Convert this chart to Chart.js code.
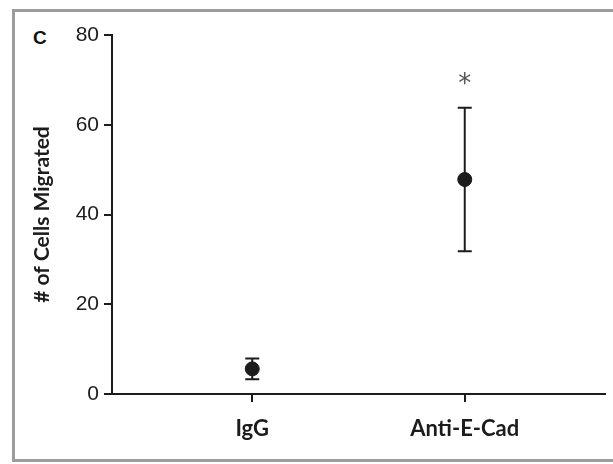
<!DOCTYPE html>
<html>
<head>
<meta charset="utf-8">
<script src="https://cdn.jsdelivr.net/npm/chart.js@4.4.1/dist/chart.umd.min.js"></script>
<style>
  html, body { margin: 0; padding: 0; background: #fff; }
  #wrap { position: relative; width: 613px; height: 464px; overflow: hidden; }
  #frame { position: absolute; left: 12px; top: 9px; width: 640px; height: 453px;
           border: 3px solid #9c9c9c; box-sizing: border-box; }
  #panel { position: absolute; left: 33px; top: 27px; color: #111;
           font: bold 19px "Liberation Sans", Arial, sans-serif; }
  canvas { position: absolute; left: 0; top: 0; }
</style>
</head>
<body>
<div id="wrap">
  <div id="frame"></div>
  <div id="panel">C</div>
  <canvas id="chart" width="613" height="464"></canvas>
</div>
<script>
// datos
const groups = ['IgG', 'Anti-E-Cad'];
const means = [5.6, 47.8];
const errors = [2.3, 16];      // +/- barra de error
const marks = ['', '*'];       // significancia
const yTicks = [0, 20, 40, 60, 80];

const ink = '#1c1c1c';

// barras de error y asterisco, dibujados con las escalas del gráfico
const errorBars = {
  id: 'errorBars',
  beforeDatasetsDraw(chart) {
    const { ctx, scales: { x, y } } = chart;
    ctx.save();
    ctx.strokeStyle = ink;
    ctx.lineWidth = 2;
    means.forEach((m, i) => {
      const px = x.getPixelForValue(i);
      const top = y.getPixelForValue(m + errors[i]);
      const bot = y.getPixelForValue(m - errors[i]);
      ctx.beginPath();
      ctx.moveTo(px, top); ctx.lineTo(px, bot);
      ctx.moveTo(px - 7, top); ctx.lineTo(px + 7, top);
      ctx.moveTo(px - 7, bot); ctx.lineTo(px + 7, bot);
      ctx.stroke();
      if (marks[i]) {
        ctx.fillStyle = '#555';
        ctx.font = '26px "DejaVu Sans", sans-serif';
        ctx.textAlign = 'center';
        ctx.textBaseline = 'middle';
        ctx.fillText(marks[i], px, top - 22);
      }
    });
    ctx.restore();
  }
};

new Chart(document.getElementById('chart'), {
  type: 'scatter',
  data: {
    datasets: [{
      data: means.map((m, i) => ({ x: i, y: m })),
      backgroundColor: ink,
      borderColor: ink,
      pointRadius: 7,
      pointHoverRadius: 7
    }]
  },
  options: {
    responsive: false,
    animation: false,
    devicePixelRatio: 1,
    layout: { padding: { left: 0, top: 35, right: 8, bottom: 0 } },
    plugins: { legend: { display: false }, tooltip: { enabled: false } },
    scales: {
      x: {
        type: 'linear',
        min: -0.66,
        max: 1.66,
        afterBuildTicks: s => { s.ticks = groups.map((g, i) => ({ value: i })); },
        afterFit: s => { s.height = 70; },
        border: { display: true, color: ink, width: 2 },
        grid: { drawOnChartArea: false, drawTicks: true, tickLength: 8, color: ink, lineWidth: 2 },
        ticks: {
          padding: 14,
          color: ink,
          font: { family: 'Lato', size: 22, weight: 'bold' },
          callback: v => groups[v] ?? ''
        }
      },
      y: {
        min: 0,
        max: 80,
        afterBuildTicks: s => { s.ticks = yTicks.map(v => ({ value: v })); },
        afterFit: s => { s.width = 112; },
        border: { display: true, color: ink, width: 2 },
        grid: { drawOnChartArea: false, drawTicks: true, tickLength: 8, color: ink, lineWidth: 2 },
        ticks: {
          padding: 5,
          color: ink,
          font: { family: 'Liberation Sans', size: 21 }
        },
        title: {
          display: true,
          text: '# of Cells Migrated',
          color: ink,
          font: { family: 'Lato', size: 21, weight: 'bold' },
          padding: { top: 30, bottom: 0 }
        }
      }
    }
  },
  plugins: [errorBars]
});
</script>
</body>
</html>
